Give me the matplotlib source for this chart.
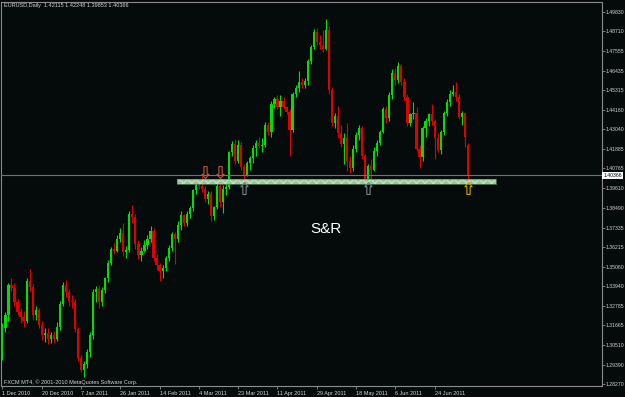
import matplotlib
matplotlib.use("Agg")
import matplotlib.pyplot as plt
import matplotlib.transforms as mtransforms
from matplotlib.path import Path
from matplotlib.patches import Rectangle
import numpy as np

# EURUSD daily candles, 1 Dec 2010 .. 11 Jul 2011
opens = [
    1.2995, 1.3150, 1.3225, 1.3400, 1.3385, 1.3300, 1.3245, 1.3215, 1.3190, 1.3425,
    1.3390, 1.3225, 1.3255, 1.3170, 1.3110, 1.3125, 1.3085, 1.3110, 1.3090, 1.3160,
    1.3290, 1.3400, 1.3360, 1.3310, 1.3300, 1.3145, 1.2975, 1.2910, 1.2945, 1.3010,
    1.3110, 1.3360, 1.3375, 1.3300, 1.3370, 1.3440, 1.3530, 1.3610, 1.3600, 1.3670,
    1.3705, 1.3590, 1.3605, 1.3810, 1.3795, 1.3640, 1.3575, 1.3600, 1.3635, 1.3670,
    1.3715, 1.3560, 1.3515, 1.3480, 1.3500, 1.3555, 1.3615, 1.3695, 1.3665, 1.3750,
    1.3805, 1.3760, 1.3810, 1.3845, 1.3950, 1.3985, 1.3975, 1.3955, 1.3900, 1.3930,
    1.3800, 1.3850, 1.3975, 1.3880, 1.3960, 1.3970, 1.4170, 1.4220, 1.4120, 1.4210,
    1.4085, 1.4040, 1.4105, 1.4135, 1.4195, 1.4225, 1.4205, 1.4215, 1.4330, 1.4290,
    1.4450, 1.4480, 1.4435, 1.4470, 1.4430, 1.4405, 1.4300, 1.4505, 1.4545, 1.4580,
    1.4560, 1.4585, 1.4700, 1.4780, 1.4870, 1.4810, 1.4790, 1.4770, 1.4880, 1.4530,
    1.4340, 1.4380, 1.4280, 1.4220, 1.4250, 1.4120, 1.4080, 1.4190, 1.4270, 1.4310,
    1.4150, 1.4010, 1.4090, 1.4070, 1.4180, 1.4225, 1.4290, 1.4420, 1.4370, 1.4500,
    1.4630, 1.4590, 1.4670, 1.4580, 1.4490, 1.4340, 1.4390, 1.4400, 1.4190, 1.4140,
    1.4310, 1.4350, 1.4390, 1.4350, 1.4250, 1.4185, 1.4290, 1.4400, 1.4460, 1.4510,
    1.4520, 1.4490, 1.4375, 1.4395, 1.42115,
]
highs = [
    1.3180, 1.3245, 1.3410, 1.3440, 1.3410, 1.3320, 1.3265, 1.3250, 1.3440, 1.3495,
    1.3405, 1.3280, 1.3265, 1.3195, 1.3150, 1.3150, 1.3130, 1.3135, 1.3185, 1.3310,
    1.3420, 1.3430, 1.3375, 1.3345, 1.3320, 1.3160, 1.2995, 1.2960, 1.3030, 1.3130,
    1.3380, 1.3395, 1.3400, 1.3390, 1.3450, 1.3545, 1.3620, 1.3645, 1.3690, 1.3730,
    1.3760, 1.3625, 1.3830, 1.3862, 1.3810, 1.3660, 1.3620, 1.3660, 1.3690, 1.3740,
    1.3730, 1.3580, 1.3530, 1.3515, 1.3570, 1.3630, 1.3710, 1.3710, 1.3770, 1.3830,
    1.3815, 1.3830, 1.3860, 1.3960, 1.3995, 1.4000, 1.4035, 1.3975, 1.3945, 1.3945,
    1.3860, 1.3990, 1.4020, 1.3980, 1.4000, 1.4180, 1.4235, 1.4245, 1.4240, 1.4230,
    1.4100, 1.4120, 1.4150, 1.4210, 1.4240, 1.4260, 1.4250, 1.4345, 1.4345, 1.4470,
    1.4490, 1.4500, 1.4500, 1.4490, 1.4440, 1.4420, 1.4520, 1.4560, 1.4640, 1.4600,
    1.4600, 1.4710, 1.4790, 1.4885, 1.4890, 1.4850, 1.4880, 1.4940, 1.4900, 1.4550,
    1.4400, 1.4440, 1.4330, 1.4280, 1.4340, 1.4150, 1.4210, 1.4290, 1.4330, 1.4320,
    1.4160, 1.4100, 1.4130, 1.4200, 1.4240, 1.4300, 1.4430, 1.4440, 1.4520, 1.4650,
    1.4660, 1.4695, 1.4680, 1.4600, 1.4510, 1.4400, 1.4460, 1.4430, 1.4210, 1.4320,
    1.4370, 1.4400, 1.4450, 1.4360, 1.4280, 1.4300, 1.4410, 1.4480, 1.4530, 1.4560,
    1.4575, 1.4510, 1.4410, 1.4400, 1.42248,
]
lows = [
    1.2965, 1.3130, 1.3195, 1.3365, 1.3280, 1.3225, 1.3180, 1.3160, 1.3180, 1.3365,
    1.3200, 1.3200, 1.3150, 1.3080, 1.3070, 1.3060, 1.3065, 1.3065, 1.3075, 1.3140,
    1.3280, 1.3330, 1.3280, 1.3270, 1.3130, 1.2960, 1.2895, 1.2865, 1.2920, 1.2985,
    1.3090, 1.3300, 1.3270, 1.3280, 1.3355, 1.3420, 1.3515, 1.3580, 1.3590, 1.3650,
    1.3570, 1.3560, 1.3590, 1.3760, 1.3610, 1.3550, 1.3540, 1.3590, 1.3610, 1.3650,
    1.3540, 1.3490, 1.3425, 1.3440, 1.3480, 1.3540, 1.3600, 1.3520, 1.3650, 1.3720,
    1.3740, 1.3740, 1.3790, 1.3830, 1.3930, 1.3955, 1.3940, 1.3880, 1.3870, 1.3770,
    1.3780, 1.3840, 1.3850, 1.3820, 1.3920, 1.3960, 1.4150, 1.4100, 1.4110, 1.4070,
    1.4015, 1.4030, 1.4070, 1.4110, 1.4150, 1.4195, 1.4170, 1.4200, 1.4270, 1.4260,
    1.4425, 1.4420, 1.4380, 1.4420, 1.4390, 1.4150, 1.4290, 1.4490, 1.4520, 1.4540,
    1.4540, 1.4560, 1.4680, 1.4770, 1.4790, 1.4770, 1.4750, 1.4760, 1.4510, 1.4320,
    1.4310, 1.4250, 1.4200, 1.4100, 1.4060, 1.4050, 1.4060, 1.4170, 1.4240, 1.4130,
    1.3970, 1.3985, 1.4000, 1.4060, 1.4150, 1.4210, 1.4280, 1.4340, 1.4350, 1.4480,
    1.4560, 1.4570, 1.4560, 1.4470, 1.4320, 1.4320, 1.4360, 1.4180, 1.4080, 1.4120,
    1.4260, 1.4320, 1.4330, 1.4130, 1.4170, 1.4160, 1.4270, 1.4380, 1.4440, 1.4495,
    1.4470, 1.4360, 1.4330, 1.4200, 1.39853,
]
closes = [
    1.3150, 1.3225, 1.3400, 1.3385, 1.3300, 1.3245, 1.3215, 1.3190, 1.3425, 1.3390,
    1.3225, 1.3255, 1.3170, 1.3110, 1.3125, 1.3085, 1.3110, 1.3090, 1.3160, 1.3290,
    1.3400, 1.3360, 1.3310, 1.3300, 1.3145, 1.2975, 1.2910, 1.2945, 1.3010, 1.3110,
    1.3360, 1.3375, 1.3300, 1.3370, 1.3440, 1.3530, 1.3610, 1.3600, 1.3670, 1.3705,
    1.3590, 1.3605, 1.3810, 1.3795, 1.3640, 1.3575, 1.3600, 1.3635, 1.3670, 1.3715,
    1.3560, 1.3515, 1.3480, 1.3500, 1.3555, 1.3615, 1.3695, 1.3665, 1.3750, 1.3805,
    1.3760, 1.3810, 1.3845, 1.3950, 1.3985, 1.3975, 1.3955, 1.3900, 1.3930, 1.3800,
    1.3850, 1.3975, 1.3880, 1.3960, 1.3970, 1.4170, 1.4220, 1.4120, 1.4210, 1.4085,
    1.4040, 1.4105, 1.4135, 1.4195, 1.4225, 1.4205, 1.4215, 1.4330, 1.4290, 1.4450,
    1.4480, 1.4435, 1.4470, 1.4430, 1.4405, 1.4300, 1.4505, 1.4545, 1.4580, 1.4560,
    1.4585, 1.4700, 1.4780, 1.4870, 1.4810, 1.4790, 1.4770, 1.4880, 1.4530, 1.4340,
    1.4380, 1.4280, 1.4220, 1.4250, 1.4120, 1.4080, 1.4190, 1.4270, 1.4310, 1.4150,
    1.4010, 1.4090, 1.4070, 1.4180, 1.4225, 1.4290, 1.4420, 1.4370, 1.4500, 1.4630,
    1.4590, 1.4670, 1.4580, 1.4490, 1.4340, 1.4390, 1.4400, 1.4190, 1.4140, 1.4310,
    1.4350, 1.4390, 1.4350, 1.4250, 1.4185, 1.4290, 1.4400, 1.4460, 1.4510, 1.4520,
    1.4490, 1.4375, 1.4395, 1.4260, 1.40366,
]

date_labels = ["1 Dec 2010", "20 Dec 2010", "7 Jan 2011", "26 Jan 2011", "14 Feb 2011",
               "4 Mar 2011", "23 Mar 2011", "11 Apr 2011", "29 Apr 2011", "18 May 2011",
               "6 Jun 2011", "24 Jun 2011"]
price_ticks = [1.49830, 1.48710, 1.47555, 1.46435, 1.45315, 1.44160, 1.43040, 1.41885,
               1.40765, 1.39610, 1.38490, 1.37335, 1.36215, 1.35060, 1.33940, 1.32785,
               1.31665, 1.30510, 1.29390, 1.28270]

bid = 1.40366
header = "EURUSD,Daily  1.42115 1.42248 1.39853 1.40366"
footer = "FXCM MT4, \u00a9 2001-2010 MetaQuotes Software Corp."

# support/resistance zone and the arrow objects on it
sr_low, sr_high = 1.3988, 1.4013
sr_from, sr_to = 57.6, 163.3
down_bars = [67, 72]
down_prices = [1.4056, 1.4056]
up_bars = [80, 121, 154]
up_prices = [1.3963, 1.3963, 1.3963]
up_colors = ["#74848c", "#74848c", "#d2a400"]

BG = "#050b0a"
GRID = "#8c8c8c"
TXT = "#d4d4d4"
BULL = "#00e000"
BEAR = "#e00000"

plt.rcParams["font.family"] = ["Liberation Sans", "DejaVu Sans"]

o = np.array(opens)
h = np.array(highs)
l = np.array(lows)
c = np.array(closes)
x = np.arange(len(c))
col = np.where(c >= o, BULL, BEAR)

fig = plt.figure(figsize=(6.25, 3.97), dpi=100, facecolor=BG)
ax = fig.add_axes([1.5 / 625, 11 / 397, 600 / 625, 384 / 397], facecolor=BG)

# candles
ax.vlines(x, l, h, colors=col, linewidth=0.8, zorder=2)
body = np.maximum(np.abs(c - o), 0.00025)
ax.bar(x, body, bottom=np.minimum(o, c), width=0.72, color=col, linewidth=0, zorder=3)

# S&R zone
ax.add_patch(Rectangle((sr_from, sr_low), sr_to - sr_from, sr_high - sr_low,
                       facecolor="#98c898", edgecolor="none", zorder=5))
ax.add_patch(Rectangle((sr_from, sr_low), sr_to - sr_from, sr_high - sr_low,
                       facecolor="none", edgecolor="#bfe0bf", hatch="xxxx",
                       linewidth=0, zorder=6))
ax.add_patch(Rectangle((sr_from, sr_low), sr_to - sr_from, sr_high - sr_low,
                       facecolor="none", edgecolor="#5f905f", linewidth=0.5, zorder=7))

# bid line
ax.axhline(bid, color="#6c7280", linewidth=0.8, zorder=4)

# hollow arrows
up_arrow = Path([(0, 1), (0.6, 0.3), (0.27, 0.3), (0.27, -1), (-0.27, -1),
                 (-0.27, 0.3), (-0.6, 0.3), (0, 1)], closed=True)
down_arrow = Path([(vx, -vy) for vx, vy in up_arrow.vertices], closed=True)
for bx, py in zip(down_bars, down_prices):
    ax.plot(bx, py, marker=down_arrow, markersize=8.6, markerfacecolor="none",
            markeredgecolor="#c8503a", markeredgewidth=0.8, zorder=8)
for bx, py, cc in zip(up_bars, up_prices, up_colors):
    ax.plot(bx, py, marker=up_arrow, markersize=8.6, markerfacecolor="none",
            markeredgecolor=cc, markeredgewidth=0.8, zorder=8)

ax.text(107, 1.3725, "S&R", color="white", fontsize=11, ha="center", va="center")

ax.set_xlim(-0.3, 198.2)
ax.set_ylim(1.28154, 1.50410)

# axes in MT4 style
for s in ax.spines.values():
    s.set_color(GRID)
    s.set_linewidth(0.8)
ax.yaxis.tick_right()
ax.set_yticks(price_ticks)
ax.set_yticklabels([f"{v:.5f}" for v in price_ticks])
ax.set_xticks(np.arange(len(date_labels)) * 13)
ax.set_xticklabels(date_labels, ha="left")
ax.tick_params(axis="both", direction="out", length=2, width=0.6, color=GRID,
               labelsize=4, labelcolor=TXT, pad=1.5)
ax.tick_params(axis="y", labelsize=3.7, pad=1)

trans = mtransforms.blended_transform_factory(ax.transAxes, ax.transData)
ax.text(1.0 + 2.0 / 600, bid, "1.40366", transform=trans, fontsize=3.7, color="black",
        ha="left", va="center", zorder=10, clip_on=False,
        bbox=dict(boxstyle="square,pad=0.2", facecolor="white", edgecolor="none"))

ax.text(3 / 600, 1 - 4 / 384, header, transform=ax.transAxes, fontsize=4,
        color=TXT, ha="left", va="center")
ax.text(3 / 600, 1 - 380 / 384, footer, transform=ax.transAxes, fontsize=4,
        color=TXT, ha="left", va="center")

fig.savefig("out.png", dpi=100, facecolor=BG)
